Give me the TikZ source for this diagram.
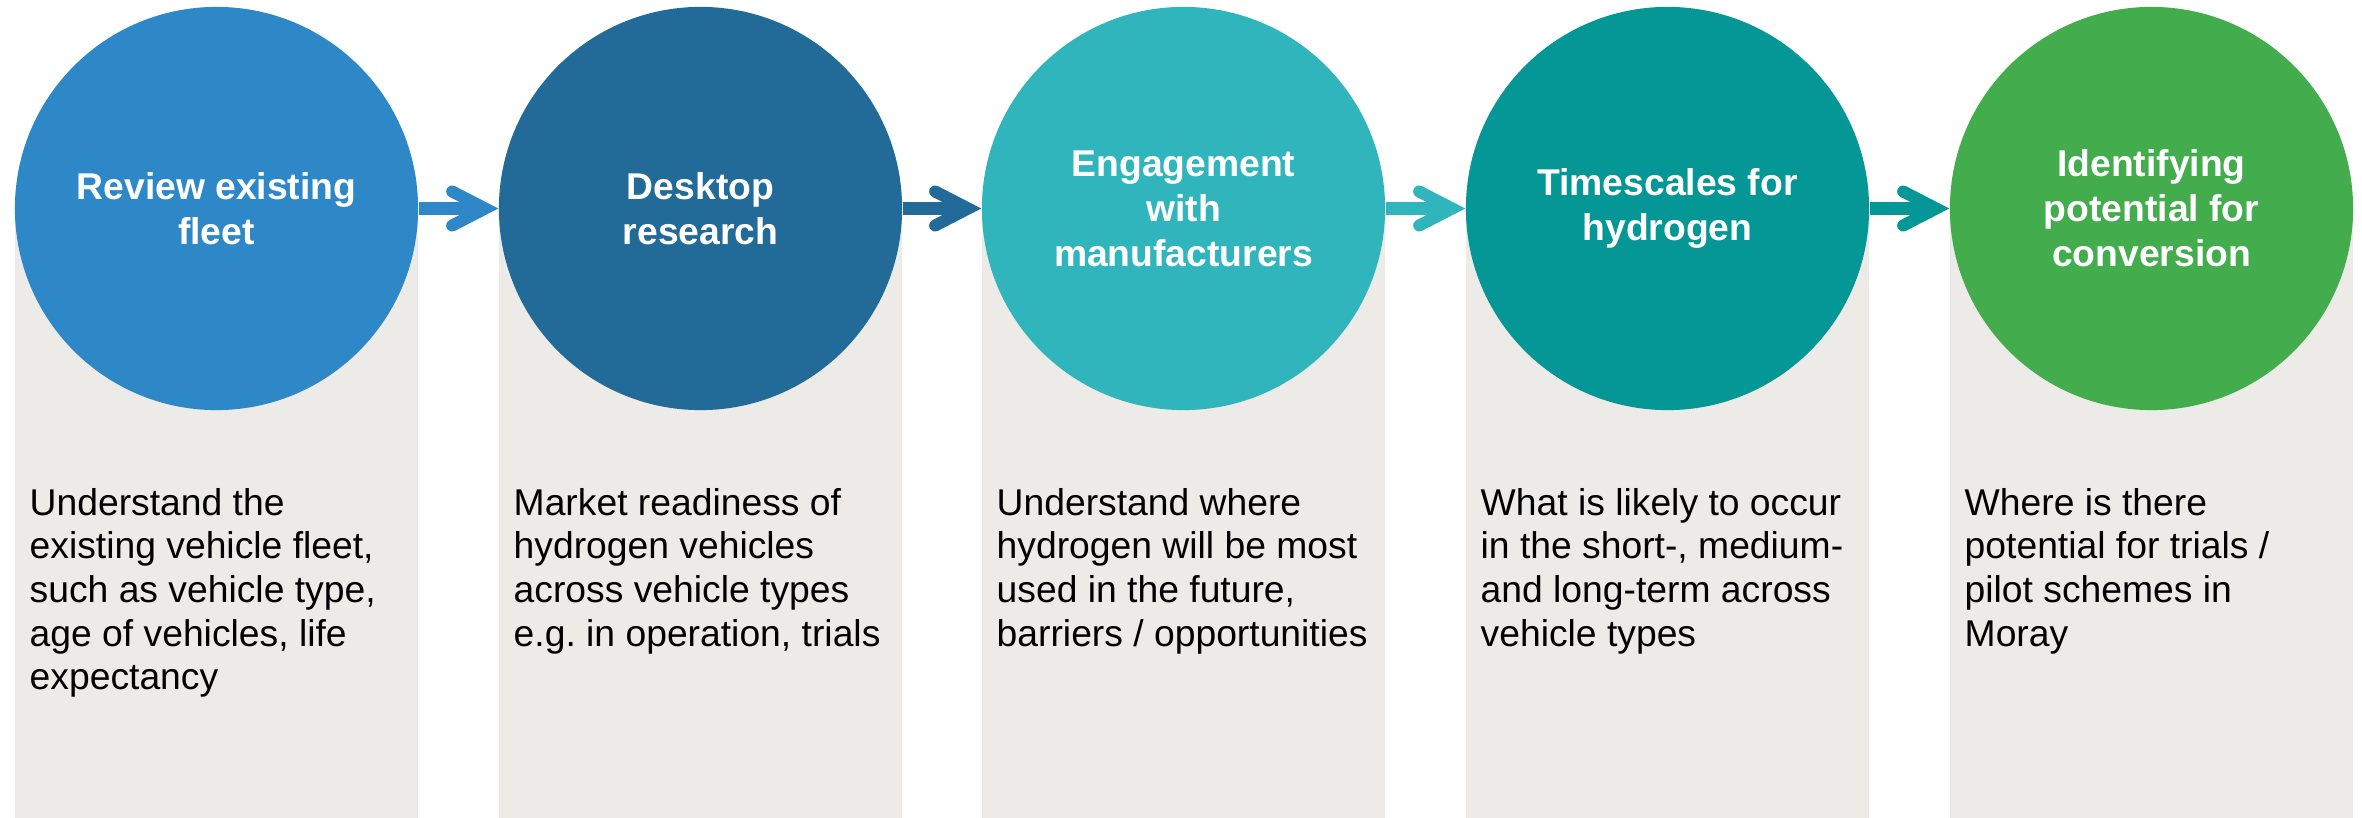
\documentclass[tikz,border=0pt]{standalone}
\usepackage{fontspec}
\setmainfont{Liberation Sans}
\usetikzlibrary{calc}
\definecolor{blau}{HTML}{2E88C8}
\definecolor{dunkelblau}{HTML}{226B98}
\definecolor{tuerkis}{HTML}{31B5BC}
\definecolor{petrol}{HTML}{049795}
\definecolor{gruen}{HTML}{43AC4D}
\definecolor{grau}{HTML}{ECEBE7}
\frenchspacing

\begin{document}
\begin{tikzpicture}[x=0.01cm,y=-0.01cm,
	kreis/.style={circle,minimum size=4.03cm,inner sep=0pt,text=white,align=center,
		font=\bfseries\fontsize{10.6}{12.8}\selectfont},
	feld/.style={anchor=north west,inner sep=0pt,align=left,text=black,
		font=\fontsize{10.6}{12.4}\selectfont}]
\def\b{403}
\def\pfeil#1#2#3{
	\draw[#3,line width=0.12cm] (#1.east) -- ($(#2.west)+(-13,0)$);
	\draw[#3,line width=0.12cm,line cap=round,line join=miter] ($(#2.west)+(-46,-17)$) -- ($(#2.west)+(-13,0)$) -- ($(#2.west)+(-46,17)$);
}
\useasboundingbox (0,0) rectangle (2362,818);
\coordinate (s1) at (15,208);
\coordinate (s2) at (499,208);
\coordinate (s3) at (982,208);
\coordinate (s4) at (1466,208);
\coordinate (s5) at (1950,208);
% graue Felder
\fill[grau] (s1) rectangle ++(\b,610);
\fill[grau] (s2) rectangle ++(\b,610);
\fill[grau] (s3) rectangle ++(\b,610);
\fill[grau] (s4) rectangle ++(\b,610);
\fill[grau] (s5) rectangle ++(\b,610);
% Kreise
\node[kreis,fill=blau] (k1) at ($(s1)+(201.5,0.5)$) {Review existing\\fleet};
\node[kreis,fill=dunkelblau] (k2) at ($(s2)+(201.5,0.5)$) {Desktop\\research};
\node[kreis,fill=tuerkis] (k3) at ($(s3)+(201.5,0.5)$) {Engagement\\with\\manufacturers};
\node[kreis,fill=petrol] (k4) at ($(s4)+(201.5,0.5)$) {Timescales for\\hydrogen};
\node[kreis,fill=gruen] (k5) at ($(s5)+(201.5,0.5)$) {Identifying\\potential for\\conversion};
% Texte
\node[feld] (t1) at ($(s1)+(14,276)$) {\strut Understand the\\existing vehicle fleet,\\such as vehicle type,\\age of vehicles, life\\expectancy};
\node[feld] (t2) at ($(s2)+(14,276)$) {\strut Market readiness of\\hydrogen vehicles\\across vehicle types\\e.g. in operation, trials};
\node[feld] (t3) at ($(s3)+(14,276)$) {\strut Understand where\\hydrogen will be most\\used in the future,\\barriers / opportunities};
\node[feld] (t4) at ($(s4)+(14,276)$) {\strut What is likely to occur\\in the short-, medium-\\and long-term across\\vehicle types};
\node[feld] (t5) at ($(s5)+(14,276)$) {\strut Where is there\\potential for trials /\\pilot schemes in\\Moray};
% Pfeile
\pfeil{k1}{k2}{blau}
\pfeil{k2}{k3}{dunkelblau}
\pfeil{k3}{k4}{tuerkis}
\pfeil{k4}{k5}{petrol}
\end{tikzpicture}
\end{document}
